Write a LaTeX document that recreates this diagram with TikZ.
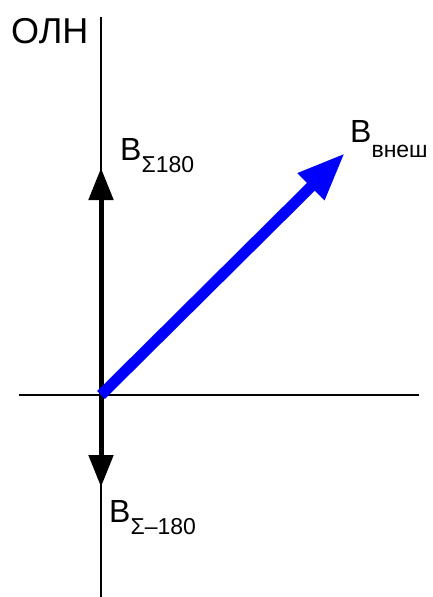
\documentclass[tikz,border=0pt]{standalone}
\usepackage{fontspec}
\setmainfont{Liberation Sans}
\usetikzlibrary{arrows.meta}
\newcommand{\vsub}[2][12pt]{\raisebox{-#1}{\fontsize{23}{23}\selectfont #2}}
\tikzset{
  axisline/.style={line width=1.5pt},
  fieldvec/.style={line width=5pt, -{Triangle[length=32pt,width=24pt]}},
  extvec/.style={blue, line width=11pt, -{Triangle[length=48pt,width=35pt]}},
  veclabel/.style={anchor=base west, inner sep=0pt, font=\fontsize{32}{32}\selectfont},
}
\begin{document}
\begin{tikzpicture}[x=1pt, y=-1pt]
  \useasboundingbox (0,0) rectangle (432,597);
  % axes
  \coordinate (O) at (101,395);
  \coordinate (vtop) at (101,17);
  \coordinate (vbot) at (101,597);
  \coordinate (hleft) at (19,395);
  \coordinate (hright) at (419,395);
  \draw[axisline] (vtop) -- (vbot);
  \draw[axisline] (hleft) -- (hright);
  \node[anchor=base west, inner sep=0pt, font=\fontsize{36}{36}\selectfont] (oln) at (11,43) {ОЛН};
  % vectors
  \coordinate (bup) at (101,168);
  \coordinate (bdown) at (101,487);
  \coordinate (bext) at (345,153);
  \draw[fieldvec] (O) -- (bup);
  \draw[fieldvec] (O) -- (bdown);
  \draw[extvec] (O) -- (bext);
  % labels
  \node[veclabel] (lup) at (120,160) {B\vsub{Σ180}};
  \node[veclabel] (ldown) at (109,522) {B\vsub{Σ–180}};
  \node[veclabel] (lext) at (350,142) {B\vsub[15pt]{внеш}};
\end{tikzpicture}
\end{document}
